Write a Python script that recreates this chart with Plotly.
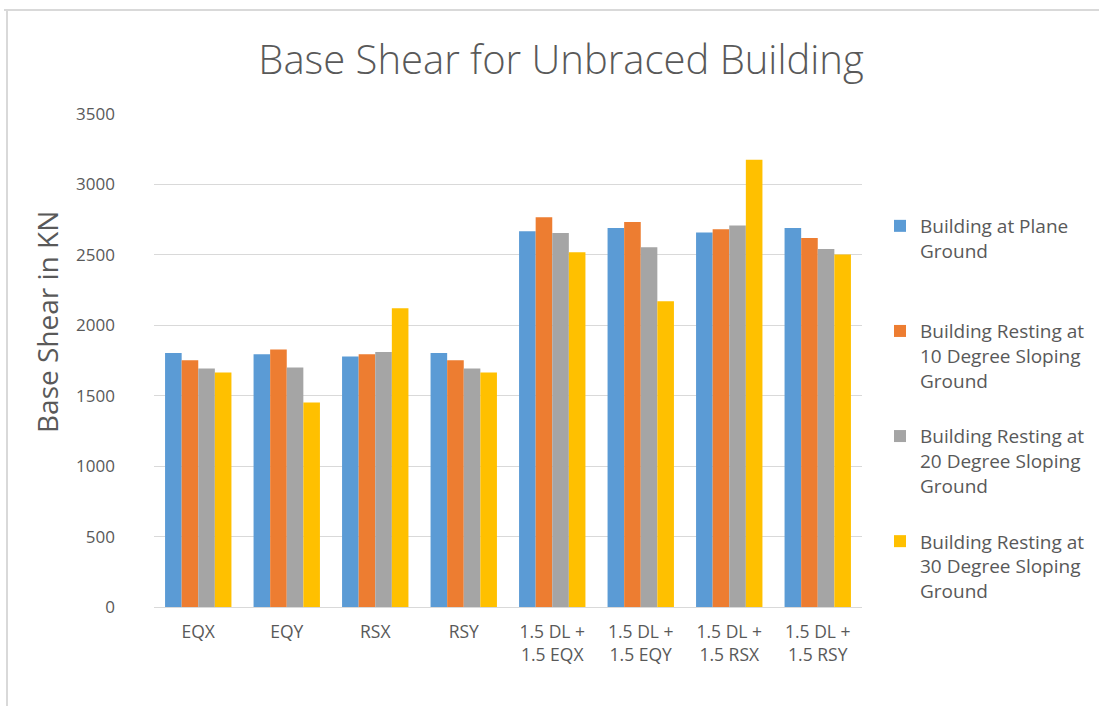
import plotly.graph_objects as go

# Load cases on the x axis
categories = ["EQX", "EQY", "RSX", "RSY",
              "1.5 DL +<br>1.5 EQX", "1.5 DL +<br>1.5 EQY",
              "1.5 DL +<br>1.5 RSX", "1.5 DL +<br>1.5 RSY"]

# Base shear (kN) for each building configuration
plane_ground = [1804, 1795, 1779, 1804, 2668, 2691, 2658, 2691]
slope_10deg = [1752, 1828, 1795, 1752, 2767, 2734, 2682, 2620]
slope_20deg = [1694, 1701, 1811, 1694, 2656, 2554, 2708, 2542]
slope_30deg = [1665, 1452, 2121, 1665, 2519, 2171, 3176, 2502]

series_names = [
    "Building at Plane<br>Ground<br>&nbsp;",
    "Building Resting at<br>10 Degree Sloping<br>Ground",
    "Building Resting at<br>20 Degree Sloping<br>Ground",
    "Building Resting at<br>30 Degree Sloping<br>Ground",
]
series_values = [plane_ground, slope_10deg, slope_20deg, slope_30deg]
series_colors = ["#5B9BD5", "#ED7D31", "#A5A5A5", "#FFC000"]

y_ticks = [0, 500, 1000, 1500, 2000, 2500, 3000, 3500]

TEXT = "#595959"
GRID = "#D9D9D9"
FONT = "Open Sans"

fig = go.Figure()
for i, (name, vals, col) in enumerate(zip(series_names, series_values, series_colors)):
    fig.add_trace(go.Bar(
        x=categories, y=vals, name=name,
        marker=dict(color=col, line=dict(width=0)),
        legendgroup=f"g{i}",
    ))

W, H = 1099, 706
L, R, T, B = 154, 237, 114, 99

def px_x(p):
    return (p - L) / (W - L - R)

def px_y(p):
    return (H - B - p) / (H - B - T)

fig.update_layout(
    width=W, height=H,
    margin=dict(l=L, r=R, t=T, b=B, autoexpand=False),
    paper_bgcolor="white", plot_bgcolor="white",
    font=dict(family=FONT, color=TEXT),
    barmode="group", bargap=0.25, bargroupgap=0,
    title=dict(text="Base Shear for Unbraced Building",
               font=dict(size=40, color=TEXT, family=FONT, weight=300),
               x=561 / W, xanchor="center", xref="container",
               y=1 - 60 / H, yanchor="middle", yref="container"),
    xaxis=dict(showgrid=False, showline=True, linecolor=GRID, linewidth=1,
               ticks="", tickfont=dict(size=17.5, color=TEXT),
               ticklabelstandoff=9),
    yaxis=dict(range=[0, 3500], tickvals=y_ticks, showgrid=True,
               gridcolor=GRID, gridwidth=1, zeroline=False, showline=False,
               ticks="", tickfont=dict(size=17, color=TEXT),
               ticklabelstandoff=38),
    legend=dict(x=px_x(880), xanchor="left", y=px_y(207), yanchor="top",
                font=dict(size=19, color=TEXT), valign="top",
                tracegroupgap=28, traceorder="grouped",
                bgcolor="rgba(0,0,0,0)"),
    showlegend=True,
)

# Vertical y-axis title
fig.add_annotation(text="Base Shear in KN", textangle=-90,
                   xref="paper", yref="paper", x=px_x(47), y=px_y(322),
                   xanchor="center", yanchor="middle", showarrow=False,
                   font=dict(size=28, color=TEXT, family=FONT))

# Light frame along the top and left edges
fig.add_shape(type="line", xref="paper", yref="paper",
              x0=px_x(4), x1=px_x(W), y0=px_y(10), y1=px_y(10),
              line=dict(color=GRID, width=2))
fig.add_shape(type="line", xref="paper", yref="paper",
              x0=px_x(7), x1=px_x(7), y0=px_y(10), y1=px_y(H),
              line=dict(color=GRID, width=2))

fig.write_html("out.html")
